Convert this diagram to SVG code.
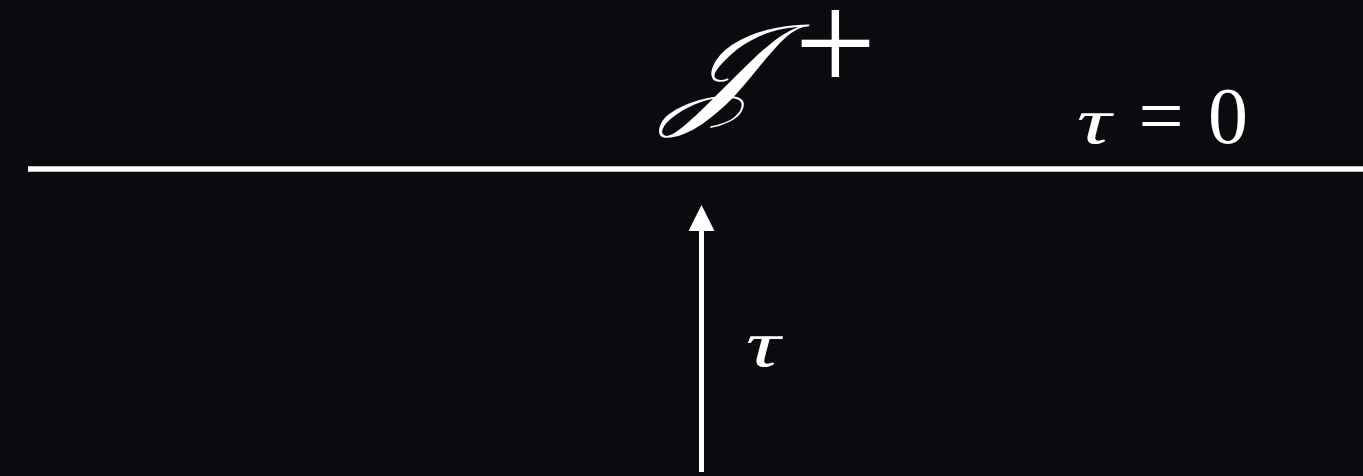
<svg xmlns="http://www.w3.org/2000/svg" width="1363" height="476" viewBox="0 0 1363 476">
<style>
.t{fill:#ffffff;font-family:"Liberation Serif","DejaVu Serif",serif}
.i{font-style:italic}
.m{font-size:80px;text-anchor:middle}
</style>
<defs>
<marker id="ah" markerWidth="26" markerHeight="26" refX="13" refY="13" markerUnits="userSpaceOnUse" orient="auto">
<path d="M0,0 L26,13 L0,26 Z" fill="#ffffff"/>
</marker>
</defs>
<rect width="1363" height="476" fill="#0b0b0f"/>
<g id="scri">
<line x1="28" y1="169" x2="1363" y2="169" stroke="#ffffff" stroke-width="5.5"/>
<text class="t i" font-size="124" transform="translate(666,111) skewX(-8) scale(1.05,1)">𝒥</text>
<text class="t" x="835.5" y="91" font-size="145" text-anchor="middle">+</text>
</g>
<g id="tau0">
<text class="t i m" transform="translate(1094,143) scale(1.2,0.82)">τ</text>
<text class="t m" x="1161" y="143">=</text>
<text class="t m" x="1228" y="143">0</text>
</g>
<g id="connectors">
<line x1="701.5" y1="472" x2="701.5" y2="218" stroke="#ffffff" stroke-width="5" marker-end="url(#ah)"/>
</g>
<g id="taulabel">
<text class="t i m" transform="translate(763,366) scale(1.2,0.82)">τ</text>
</g>
</svg>
